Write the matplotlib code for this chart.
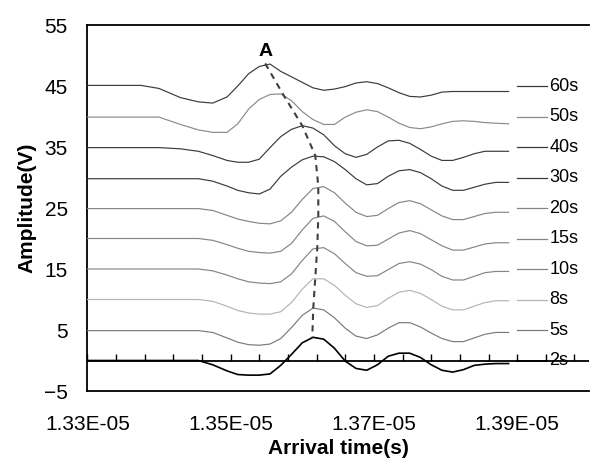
import matplotlib

matplotlib.use("Agg")
import matplotlib.pyplot as plt
import matplotlib.transforms as mtransforms
import numpy as np
from matplotlib.markers import TICKUP
from matplotlib.ticker import FixedLocator, FuncFormatter

plt.rcParams["font.family"] = ["Liberation Sans", "DejaVu Sans"]

# sample times, in units of 1E-05 s
time_e5 = [1.3300, 1.3345, 1.3375, 1.3400, 1.3430, 1.3455, 1.3475, 1.3495,
           1.3510, 1.3525, 1.3540, 1.3555, 1.3570, 1.3585, 1.3600, 1.3615,
           1.3630, 1.3645, 1.3660, 1.3675, 1.3690, 1.3705, 1.3720, 1.3735,
           1.3750, 1.3765, 1.3780, 1.3795, 1.3810, 1.3825, 1.3840, 1.3855,
           1.3870, 1.3888]

labels = ["60s", "50s", "40s", "30s", "20s", "15s", "10s", "8s", "5s", "2s"]
offsets = [45, 40, 35, 30, 25, 20, 15, 10, 5, 0]
colors = ["#3a3a3a", "#8a8a8a", "#3a3a3a", "#3a3a3a", "#858585",
          "#858585", "#858585", "#b4b4b4", "#7a7a7a", "#000000"]

# amplitudes (V), already shifted by the offsets used in the chart
amp_60s = [45.1, 45.1, 45.1, 44.6, 43.1, 42.4, 42.2, 43.2, 45.0, 47.0, 48.2, 48.6,
           47.4, 46.5, 45.6, 44.7, 44.3, 44.5, 44.9, 45.5, 45.7, 45.4, 44.7, 43.9,
           43.3, 43.2, 43.5, 44.0, 44.1, 44.1, 44.1, 44.1, 44.1, 44.1]
amp_50s = [39.9, 39.9, 39.9, 39.9, 38.7, 37.8, 37.4, 37.4, 38.8, 41.2, 42.8, 43.6,
           43.7, 42.6, 40.8, 39.5, 38.7, 38.7, 39.9, 40.7, 41.1, 40.8, 39.9, 38.9,
           38.2, 38.0, 38.3, 38.8, 39.2, 39.3, 39.2, 39.0, 38.9, 38.8]
amp_40s = [34.9, 34.9, 34.9, 34.9, 34.7, 34.3, 33.6, 32.8, 32.5, 32.5, 33.0, 34.9,
           36.7, 37.9, 38.5, 38.1, 37.0, 35.2, 33.9, 33.3, 33.8, 35.0, 36.0, 36.1,
           35.6, 34.6, 33.5, 32.8, 32.8, 33.3, 33.9, 34.3, 34.3, 34.3]
amp_30s = [29.8, 29.8, 29.8, 29.8, 29.8, 29.8, 29.4, 28.6, 27.9, 27.5, 27.3, 28.1,
           30.2, 31.7, 32.9, 33.5, 33.4, 32.6, 31.3, 29.8, 28.8, 29.0, 30.2, 31.1,
           31.3, 30.8, 29.8, 28.6, 27.9, 27.9, 28.4, 28.9, 29.2, 29.2]
amp_20s = [24.9, 24.9, 24.9, 24.9, 24.9, 24.9, 24.6, 23.8, 23.2, 22.8, 22.5, 22.4,
           22.9, 24.3, 26.4, 28.2, 28.5, 27.5, 25.8, 24.3, 23.6, 23.8, 24.9, 25.9,
           26.2, 25.7, 24.7, 23.7, 23.1, 23.1, 23.6, 24.1, 24.3, 24.3]
amp_15s = [20.0, 20.0, 20.0, 20.0, 20.0, 20.0, 19.7, 19.0, 18.4, 17.9, 17.7, 17.6,
           17.9, 19.2, 21.4, 23.3, 23.7, 22.8, 21.1, 19.5, 18.8, 18.9, 19.9, 20.9,
           21.3, 20.8, 19.8, 18.8, 18.1, 18.1, 18.6, 19.1, 19.3, 19.3]
amp_10s = [15.0, 15.0, 15.0, 15.0, 15.0, 15.0, 14.7, 14.0, 13.4, 12.9, 12.7, 12.6,
           12.9, 14.2, 16.4, 18.3, 18.5, 17.5, 15.9, 14.4, 13.8, 13.9, 14.9, 15.9,
           16.2, 15.8, 14.9, 13.8, 13.2, 13.2, 13.8, 14.4, 14.6, 14.6]
amp_8s = [10.0, 10.0, 10.0, 10.0, 10.0, 10.0, 9.7, 8.9, 8.2, 7.8, 7.6, 7.6,
          8.0, 9.5, 11.7, 13.4, 13.4, 12.3, 10.7, 9.3, 8.7, 9.0, 10.2, 11.2,
          11.5, 11.0, 10.0, 8.9, 8.3, 8.3, 8.9, 9.5, 9.8, 9.8]
amp_5s = [4.9, 4.9, 4.9, 4.9, 4.9, 4.9, 4.6, 3.7, 3.0, 2.6, 2.5, 2.7,
          3.6, 5.4, 7.4, 8.6, 8.3, 7.0, 5.3, 4.0, 3.6, 4.2, 5.3, 6.2,
          6.2, 5.5, 4.5, 3.6, 3.1, 3.1, 3.7, 4.3, 4.6, 4.6]
amp_2s = [0.0, 0.0, 0.0, 0.0, 0.0, 0.0, -0.7, -1.7, -2.3, -2.4, -2.4, -2.2,
          -0.8, 1.0, 2.9, 3.8, 3.5, 2.0, -0.1, -1.3, -1.6, -0.7, 0.7, 1.2,
          1.2, 0.5, -0.7, -1.6, -1.9, -1.5, -0.8, -0.6, -0.5, -0.5]

series = [amp_60s, amp_50s, amp_40s, amp_30s, amp_20s,
          amp_15s, amp_10s, amp_8s, amp_5s, amp_2s]

# first-peak trace "A"
peak_time_e5 = [1.35483, 1.35734, 1.36000, 1.36182, 1.36224,
                1.36224, 1.36210, 1.36182, 1.36154, 1.36140]
peak_amp = [48.7, 43.6, 38.5, 33.6, 28.6, 23.7, 18.6, 13.6, 8.6, 3.8]

xtick_e5 = [1.33, 1.35, 1.37, 1.39]
yticks = [-5, 5, 15, 25, 35, 45, 55]


def main() -> None:
    t = np.array(time_e5) * 1e-5
    xlim = (1.33e-5, 1.40e-5)

    fig = plt.figure(figsize=(5.9, 4.63), dpi=100)
    ax = fig.add_axes([0.148, 0.1555, 0.85, 0.7905])

    # axis line crossing at zero, with minor tick marks every 0.004E-05
    ax.axhline(0, color="black", linewidth=1.3, zorder=2)
    minor_x = np.arange(xlim[0], xlim[1] + 1e-9, 4e-8)
    ax.plot(minor_x, np.zeros_like(minor_x), linestyle="none", marker=TICKUP,
            markersize=5, markeredgewidth=1.0, color="black", zorder=2,
            clip_on=False)

    for amp, col, lab in zip(series, colors, labels):
        lw = 1.2 if lab == "2s" else 0.85
        ax.plot(t, amp, color=col, linewidth=lw, zorder=3)

    ax.plot(np.array(peak_time_e5) * 1e-5, peak_amp, color="#404040",
            linewidth=1.5, dashes=(3, 2.5), zorder=4)
    ax.text(peak_time_e5[0] * 1e-5, 50.6, "A", ha="center", va="center",
            fontsize=14, fontweight="bold")

    # legend keys next to each trace
    trans = mtransforms.blended_transform_factory(ax.transAxes, ax.transData)
    for off, col, lab in zip(offsets, colors, labels):
        ax.plot([0.856, 0.916], [off, off], transform=trans, color=col,
                linewidth=1.2 if lab == "2s" else 0.9, clip_on=False)
        ax.text(0.921, off, lab, transform=trans, ha="left", va="center",
                fontsize=13)

    ax.set_xlim(*xlim)
    ax.set_ylim(-5, 55)
    ax.xaxis.set_major_locator(FixedLocator(np.array(xtick_e5) * 1e-5))
    ax.xaxis.set_major_formatter(FuncFormatter(lambda v, _: f"{v:.2E}"))
    ax.yaxis.set_major_locator(FixedLocator(yticks))
    ax.tick_params(axis="x", length=0, pad=17, labelsize=15)
    ax.tick_params(axis="y", length=0, pad=14, labelsize=15)

    for side in ("left", "top", "bottom"):
        ax.spines[side].set_linewidth(1.3)
        ax.spines[side].set_color("black")
    ax.spines["right"].set_visible(False)

    ax.set_xlabel("Arrival time(s)", fontsize=15, fontweight="bold")
    ax.xaxis.set_label_coords(0.5, -0.13)
    ax.set_ylabel("Amplitude(V)", fontsize=15, fontweight="bold")
    ax.yaxis.set_label_coords(-0.102, 0.5)

    fig.savefig("out.png", dpi=100)
    plt.close(fig)


if __name__ == "__main__":
    main()
